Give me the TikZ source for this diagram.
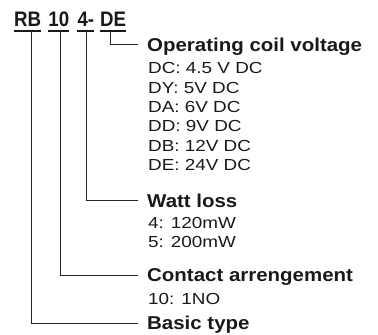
\documentclass[tikz,border=0pt]{standalone}
\usepackage{fontspec}
\setmainfont{Liberation Sans}
\usetikzlibrary{positioning}

% horizontal widening of the different text kinds
\newcommand\codetxt[1]{\scalebox{0.89}[1]{#1}}
\newcommand\headtxt[1]{\scalebox{1.1}[1]{#1}}
\newcommand\itemtxt[1]{\scalebox{1.18}[1]{#1}}

\tikzset{
  code/.style={inner xsep=0pt, inner ysep=4pt, anchor=base west,
    font=\bfseries\fontsize{21}{21}\selectfont},
  head/.style={inner sep=0pt, anchor=base west,
    font=\bfseries\fontsize{18.6}{20}\selectfont},
  item/.style={inner sep=0pt, anchor=base west,
    font=\fontsize{16}{18}\selectfont},
  lead/.style={line width=0.9pt, color=black!85},
}

\begin{document}
\begin{tikzpicture}[x=1pt, y=1pt, color=black!90]
    \useasboundingbox (0, 0) rectangle (378, 335);

    % order code
    \node[code] (rb)   at (14, 308.3)   {\codetxt{RB}};
    \node[code] (ten)  at (48.3, 308.3) {\codetxt{10}};
    \node[code] (four) at (77.3, 308.3) {\codetxt{4-}};
    \node[code] (de)   at (100, 308.3)  {\codetxt{DE}};
    \foreach \n in {rb, ten, four, de}
      \draw[line width=1.6pt] (\n.south west) -- (\n.south east);

    % headings
    \node[head] (coil)    at (147, 283.8) {\headtxt{Operating coil voltage}};
    \node[head] (watt)    at (147, 127.5) {\headtxt{Watt loss}};
    \node[head] (contact) at (147, 53)    {\headtxt{Contact arrengement}};
    \node[head] (basic)   at (147, 5)     {\headtxt{Basic type}};

    % values
    \foreach \t [count=\i] in {DC: 4.5 V DC, DY: 5V DC, DA: 6V DC,
                               DD: 9V DC, DB: 12V DC, DE: 24V DC}
      \node[item] (coil-\i) at (148, 280.3-19.3*\i) {\itemtxt{\t}};
    \foreach \t [count=\i] in {4: 120mW, 5: 200mW}
      \node[item] (watt-\i) at (148, 125.8-19.3*\i) {\itemtxt{\t}};
    \node[item] (contact-1) at (148, 30) {\itemtxt{10: 1NO}};

    % leaders
    \draw[lead] ([xshift=-3pt]de.south)    |- ([shift={(-9pt,7pt)}]coil.base west);
    \draw[lead] ([xshift=0.7pt]four.south) |- ([shift={(-9pt,7pt)}]watt.base west);
    \draw[lead] ([xshift=1.6pt]ten.south)  |- ([shift={(-9pt,7pt)}]contact.base west);
    \draw[lead] ([xshift=3.5pt]rb.south)   |- ([shift={(-9pt,7pt)}]basic.base west);
\end{tikzpicture}
\end{document}
